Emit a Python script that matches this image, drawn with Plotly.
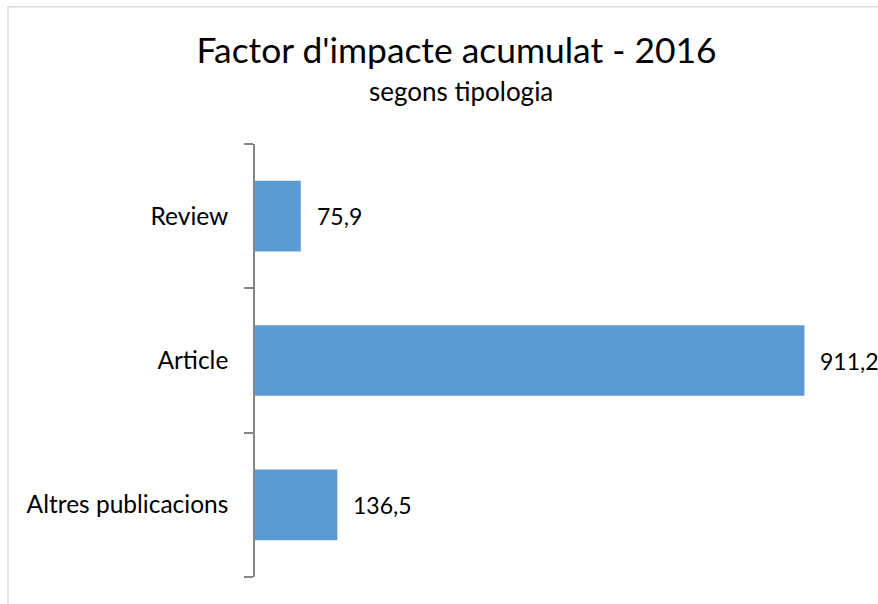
import plotly.graph_objects as go

categories = ["Altres publicacions", "Article", "Review"]
values = [136.5, 911.2, 75.9]
labels = ["136,5", "911,2", "75,9"]

FONT = "Lato"

fig = go.Figure()
fig.add_trace(go.Bar(
    x=values, y=categories, orientation="h",
    marker=dict(color="#5b9bd5", line=dict(width=0)),
    width=0.49,
    hoverinfo="skip",
))

for c, v, t in zip(categories, values, labels):
    fig.add_annotation(x=v, y=c, text=t, showarrow=False, xanchor="left",
                       xshift=14, font=dict(family=FONT, size=23, color="#000000"))

fig.add_annotation(x=0.3416, y=1.1224, xref="x domain", yref="paper",
                   xanchor="center", yanchor="middle", showarrow=False,
                   text="segons tipologia",
                   font=dict(family=FONT, size=26, color="#000000"))

fig.update_layout(
    width=878, height=604,
    margin=dict(l=255, r=20, t=144, b=27),
    paper_bgcolor="white", plot_bgcolor="white",
    showlegend=False,
    title=dict(
        text="Factor d'impacte acumulat - 2016",
        x=0.52, xanchor="center", xref="container",
        y=0.9156, yanchor="middle", yref="container",
        font=dict(family=FONT, size=35.4, color="#000000"),
    ),
    xaxis=dict(range=[0, 1000], visible=False, fixedrange=True),
    yaxis=dict(
        showline=True, linecolor="#868686", linewidth=1.5,
        ticks="outside", tickson="boundaries", ticklen=9, tickcolor="#868686",
        tickwidth=1.5, ticklabelstandoff=20,
        tickfont=dict(family=FONT, size=24.5, color="#000000"),
        showgrid=False, zeroline=False, fixedrange=True,
    ),
    shapes=[dict(type="rect", xref="paper", yref="paper",
                 x0=-0.4096, x1=1.06, y0=-0.08, y1=1.317,
                 line=dict(color="#d9d9d9", width=1.5), layer="below")],
)

fig.write_html("out.html", config={"displayModeBar": False},
               post_script="document.body.style.margin='0';")
